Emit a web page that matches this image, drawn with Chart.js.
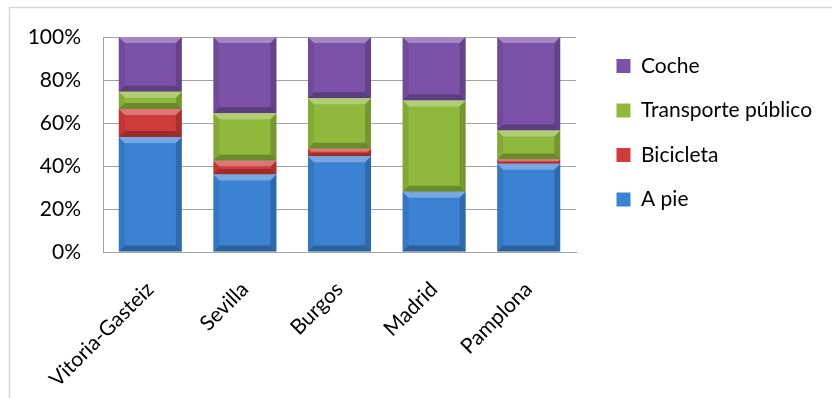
<!DOCTYPE html>
<html>
<head>
<meta charset="utf-8">
<script src="https://cdn.jsdelivr.net/npm/chart.js@4/dist/chart.umd.min.js"></script>
<style>
  html, body { margin: 0; padding: 0; background: #fff; }
  canvas { display: block; }
</style>
</head>
<body>
<canvas id="c" width="832" height="398"></canvas>
<script>
// Reparto modal de los desplazamientos por ciudad (%)
const ciudades = ['Vitoria-Gasteiz', 'Sevilla', 'Burgos', 'Madrid', 'Pamplona'];
const aPie = [53.5, 36, 44.5, 28, 41];
const bicicleta = [13, 6.5, 3.5, 0, 2];
const transportePublico = [8, 22, 23.5, 42.5, 13.5];
const coche = [25.5, 35.5, 28.5, 29.5, 43.5];
const yTicks = [0, 20, 40, 60, 80, 100];

const FONT = 'Lato, "Open Sans", sans-serif';
const GRID = '#a3a3a3';

// Bevelled edges on every bar segment, using the element geometry from Chart.js
function poly(ctx, pts, fill) {
  ctx.beginPath();
  ctx.moveTo(pts[0][0], pts[0][1]);
  for (let i = 1; i < pts.length; i++) ctx.lineTo(pts[i][0], pts[i][1]);
  ctx.closePath();
  ctx.fillStyle = fill;
  ctx.fill();
}
const bevelPlugin = {
  id: 'bevel',
  afterDatasetsDraw(chart) {
    const ctx = chart.ctx;
    ctx.save();
    chart.data.datasets.forEach((ds, i) => {
      const meta = chart.getDatasetMeta(i);
      if (meta.hidden) return;
      meta.data.forEach(bar => {
        const p = bar.getProps(['x', 'y', 'base', 'width'], true);
        const l = p.x - p.width / 2, r = p.x + p.width / 2;
        const t = Math.min(p.y, p.base), b = Math.max(p.y, p.base);
        const h = b - t;
        if (h < 1) return;
        const e = Math.min(6, h / 2.5);
        poly(ctx, [[l, t], [r, t], [r - e, t + e], [l + e, t + e]], 'rgba(255,255,255,0.30)');
        poly(ctx, [[l, b], [r, b], [r - e, b - e], [l + e, b - e]], 'rgba(0,0,0,0.25)');
        poly(ctx, [[l, t], [l + e, t + e], [l + e, b - e], [l, b]], 'rgba(0,0,0,0.08)');
        poly(ctx, [[r, t], [r - e, t + e], [r - e, b - e], [r, b]], 'rgba(0,0,0,0.18)');
      });
    });
    ctx.restore();
  }
};

// Light frame around the whole chart
const framePlugin = {
  id: 'frame',
  beforeDraw(chart) {
    const ctx = chart.ctx;
    ctx.save();
    ctx.strokeStyle = '#d6d6d6';
    ctx.lineWidth = 1.5;
    ctx.strokeRect(9.5, 7.5, chart.width + 20, chart.height + 20);
    ctx.restore();
  }
};

// Place the legend block a little away from the plot and let it use the free width
const legendGap = 17;
const legendDrop = -5;
const legendPlace = {
  id: 'legendPlace',
  afterLayout(chart) {
    const lg = chart.legend;
    if (!lg) return;
    lg.left = chart.chartArea.right + legendGap;
    lg.right = chart.width;
    lg.width = lg.right - lg.left;
    lg.top += legendDrop; lg.bottom += legendDrop;
  }
};

const ds = (label, data, color) => ({
  label, data,
  backgroundColor: color,
  borderWidth: 0,
  barPercentage: 0.667,
  categoryPercentage: 1.0
});

new Chart(document.getElementById('c'), {
  type: 'bar',
  data: {
    labels: ciudades,
    datasets: [
      ds('A pie', aPie, '#3b82d3'),
      ds('Bicicleta', bicicleta, '#d03b3b'),
      ds('Transporte público', transportePublico, '#8fb83c'),
      ds('Coche', coche, '#7b52a8')
    ]
  },
  options: {
    responsive: false,
    animation: false,
    layout: { padding: { top: 37, left: 0, right: 64, bottom: 0 } },
    plugins: {
      tooltip: { enabled: false },
      legend: {
        position: 'right',
        align: 'start',
        reverse: true,
        labels: {
          boxWidth: 14,
          boxHeight: 14,
          padding: 23.5,
          color: '#000',
          font: { family: FONT, size: 21 }
        }
      }
    },
    scales: {
      x: {
        stacked: true,
        grid: { display: false, drawTicks: false },
        border: { display: true, color: GRID, width: 1 },
        ticks: {
          color: '#000',
          font: { family: FONT, size: 21 },
          maxRotation: 45,
          minRotation: 45,
          padding: 25,
          autoSkip: false
        },
        afterFit(scale) { scale.height = 146; }
      },
      y: {
        stacked: true,
        min: 0,
        max: 100,
        afterBuildTicks(scale) { scale.ticks = yTicks.map(v => ({ value: v })); },
        grid: { color: GRID, lineWidth: 1, drawTicks: false },
        border: { display: true, color: GRID, width: 1 },
        ticks: {
          color: '#000',
          font: { family: FONT, size: 21 },
          padding: 22,
          callback: v => v + '%'
        },
        afterFit(scale) { scale.width = 103; }
      }
    }
  },
  plugins: [framePlugin, bevelPlugin, legendPlace]
});
</script>
</body>
</html>
